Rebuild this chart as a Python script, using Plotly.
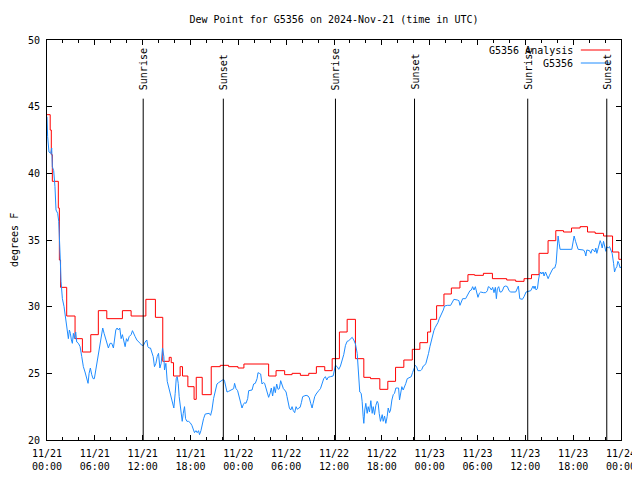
import plotly.graph_objects as go
import pandas as pd

START = "2024-11-21 00:00"
TITLE = "Dew Point for G5356 on 2024-Nov-21 (time in UTC)"
Y_TITLE = "degrees F"

# Analysis series (step values), hours since START
analysis_hours = [0, 0.4, 0.54, 0.67, 1.42, 1.55, 1.7, 2.47, 3.52, 4.44, 5.49, 6.44, 7.5, 9.46, 10.55,
                  12.4, 13.6, 14.52, 15.33, 15.58, 15.87, 16.7, 17.0, 17.67, 18.45, 18.72, 19.47, 20.6,
                  21.73, 22.78, 23.96, 24.7, 27.8, 28.73, 29.81, 30.74, 31.78, 32.83, 33.79, 34.84,
                  35.77, 36.68, 37.65, 38.69, 39.74, 40.58, 41.75, 42.75, 43.72, 44.76, 45.82, 46.77,
                  47.74, 48.12, 48.87, 49.79, 50.72, 51.8, 52.8, 53.64, 54.74, 55.87, 57.66, 58.79,
                  59.84, 60.77, 61.72, 62.85, 63.82, 64.79, 65.79, 66.87, 67.8, 68.76, 69.81, 70.94,
                  71.73, 72]
analysis_values = [44.4, 43.25, 41.4, 39.4, 37.4, 33.5, 31.45, 29.3, 27.6, 26.6, 27.9, 29.7, 29.1, 29.7,
                   29.3, 30.55, 29.2, 25.9, 26.2, 25.8, 24.8, 25.5, 24.8, 24.0, 23.05, 24.7, 23.4, 25.5,
                   25.6, 25.5, 25.4, 25.7, 24.8, 25.2, 24.9, 25.0, 24.85, 25.0, 25.5, 25.2, 26.1, 28.1,
                   29.05, 26.1, 24.7, 24.6, 23.8, 24.4, 25.45, 26.0, 26.8, 27.3, 28.1, 29.05, 30.07,
                   30.95, 31.4, 31.9, 32.4, 32.35, 32.5, 32.1, 32.0, 31.9, 32.1, 32.4, 34.0, 34.95, 35.7,
                   35.6, 35.9, 36.0, 35.6, 35.5, 35.3, 34.1, 33.55, 33.55]

# Observed station series, hours since START
obs_hours = [0, 0.08, 0.25, 0.46, 0.59, 0.67, 0.84, 1.0, 1.13, 1.34, 1.47, 1.55, 1.67, 1.76, 1.93, 2.14,
             2.26, 2.39, 2.51, 2.68, 2.81, 2.93, 3.06, 3.18, 3.31, 3.43, 3.6, 3.73, 3.94, 4.15, 4.36,
             4.56, 4.77, 4.98, 5.15, 5.28, 5.44, 5.61, 5.78, 5.94, 6.11, 6.32, 6.53, 6.7, 6.87, 6.99,
             7.16, 7.37, 7.58, 7.7, 7.91, 8.12, 8.33, 8.46, 8.63, 8.79, 8.96, 9.13, 9.3, 9.46, 9.63,
             9.8, 9.97, 10.13, 10.3, 10.55, 10.72, 10.89, 11.06, 11.27, 11.48, 11.68, 11.9, 12.1,
             12.31, 12.52, 12.65, 12.81, 12.98, 13.15, 13.32, 13.48, 13.66, 13.82, 13.99, 14.16,
             14.32, 14.49, 14.66, 14.74, 14.91, 15.08, 15.24, 15.41, 15.58, 15.75, 15.91, 16.08,
             16.21, 16.33, 16.46, 16.58, 16.71, 16.83, 16.96, 17.09, 17.25, 17.38, 17.55, 17.75,
             17.96, 18.17, 18.38, 18.5, 18.68, 18.84, 19.01, 19.13, 19.31, 19.43, 19.64, 19.85, 20.1,
             20.35, 20.52, 20.69, 20.89, 21.1, 21.32, 21.52, 21.73, 21.95, 22.15, 22.28, 22.45,
             22.58, 22.78, 22.99, 23.2, 23.41, 23.53, 23.71, 23.91, 24.12, 24.29, 24.46, 24.62,
             24.79, 24.96, 25.17, 25.3, 25.5, 25.72, 25.92, 26.13, 26.35, 26.47, 26.63, 26.8, 26.97,
             27.14, 27.3, 27.48, 27.64, 27.8, 27.98, 28.14, 28.3, 28.48, 28.64, 28.81, 28.98, 29.15,
             29.31, 29.48, 29.65, 29.81, 29.99, 30.11, 30.24, 30.4, 30.57, 30.74, 30.9, 31.07, 31.24,
             31.41, 31.57, 31.75, 31.91, 32.07, 32.25, 32.5, 32.75, 32.91, 33.08, 33.25, 33.38,
             33.58, 33.76, 33.92, 34.08, 34.3, 34.51, 34.71, 34.92, 35.09, 35.26, 35.43, 35.55,
             35.89, 36.18, 36.39, 36.6, 36.81, 37.02, 37.22, 37.44, 37.65, 37.85, 38.07, 38.28,
             38.48, 38.69, 38.91, 39.11, 39.23, 39.41, 39.53, 39.66, 39.74, 39.86, 39.99, 40.16,
             40.29, 40.45, 40.62, 40.79, 40.92, 41.08, 41.25, 41.42, 41.54, 41.67, 41.83, 42.05,
             42.17, 42.34, 42.5, 42.67, 42.8, 42.96, 43.09, 43.26, 43.43, 43.59, 43.76, 43.93, 44.1,
             44.22, 44.35, 44.51, 44.68, 44.85, 45.01, 45.19, 45.35, 45.52, 45.69, 45.85, 46.02,
             46.19, 46.36, 46.52, 46.86, 47.02, 47.2, 47.36, 47.53, 47.7, 47.86, 48.03, 48.2, 48.37,
             48.53, 48.7, 48.87, 49.03, 49.21, 49.37, 49.54, 49.71, 49.87, 50.21, 50.63, 50.84,
             51.04, 51.47, 51.67, 51.8, 51.97, 52.14, 52.51, 52.73, 52.89, 53.05, 53.23, 53.39,
             53.56, 53.73, 53.89, 54.06, 54.23, 54.4, 54.73, 55.03, 55.24, 55.36, 55.53, 55.74, 55.9,
             56.07, 56.24, 56.37, 56.49, 56.66, 56.82, 57.0, 57.16, 57.32, 57.54, 57.75, 57.95,
             58.17, 58.79, 59.0, 59.13, 59.3, 59.63, 59.84, 59.97, 60.09, 60.68, 60.84, 60.97, 61.1,
             61.22, 61.35, 61.52, 61.65, 61.77, 61.93, 62.06, 62.23, 62.35, 62.53, 62.69, 62.86,
             63.03, 63.19, 63.36, 63.53, 63.69, 63.86, 63.94, 64.03, 64.11, 64.24, 64.36, 65.83,
             66.0, 66.12, 66.3, 66.46, 66.62, 67.3, 67.46, 67.59, 67.71, 68.05, 68.22, 68.38, 68.56,
             68.72, 68.84, 68.97, 69.1, 69.22, 69.39, 69.51, 69.64, 69.81, 69.94, 70.1, 70.23,
             70.39, 70.56, 70.73, 70.89, 71.07, 71.19, 71.32, 71.48, 71.61, 71.73, 71.9, 72.0]
obs_values = [44.25, 42.75, 41.6, 41.5, 41.9, 40.5, 40.2, 39.0, 37.25, 37.0, 36.4, 35.5, 33.5, 31.9, 30.6,
              30.0, 29.4, 28.75, 28.25, 27.6, 28.25, 28.0, 27.5, 27.25, 28.0, 27.6, 28.1, 27.35, 27.25,
              27.0, 26.25, 25.5, 25.1, 24.5, 24.25, 25.0, 25.4, 24.9, 24.6, 24.6, 25.25, 26.1, 26.9,
              27.5, 28.0, 28.4, 28.0, 27.6, 27.1, 26.9, 27.25, 27.25, 26.9, 27.4, 28.25, 28.4, 28.25,
              28.4, 27.6, 27.9, 27.3, 27.0, 27.6, 27.4, 27.75, 27.9, 28.2, 27.9, 27.75, 27.5, 27.4,
              27.25, 27.1, 27.1, 27.35, 27.5, 27.0, 26.9, 26.9, 26.5, 26.25, 25.5, 25.75, 26.25, 26.5,
              25.4, 25.75, 26.9, 26.25, 25.25, 25.75, 24.4, 24.0, 23.5, 23.1, 22.75, 22.4, 23.5, 24.6,
              24.75, 24.25, 23.25, 22.5, 21.9, 21.4, 22.0, 22.5, 21.6, 21.4, 21.4, 21.3, 21.1, 20.75,
              20.55, 20.7, 20.55, 20.7, 20.4, 20.7, 21.1, 21.6, 21.95, 21.95, 22.0, 21.85, 22.25,
              23.1, 23.6, 24.2, 24.3, 24.4, 24.5, 24.55, 24.4, 24.0, 23.6, 23.65, 23.7, 23.8, 23.85,
              24.25, 23.85, 23.7, 23.25, 22.9, 22.4, 22.65, 22.8, 22.75, 23.1, 23.7, 23.75, 23.75,
              24.2, 24.25, 24.6, 25.05, 25.0, 24.95, 24.2, 24.3, 24.25, 23.9, 23.6, 23.2, 23.5, 23.9,
              23.3, 24.0, 23.55, 24.2, 23.8, 23.85, 24.45, 24.05, 23.85, 23.75, 23.6, 23.25, 22.75,
              22.4, 22.25, 22.5, 22.2, 22.05, 22.5, 22.3, 22.4, 22.45, 22.8, 23.25, 23.3, 23.35, 23.3,
              23.15, 22.75, 22.4, 22.75, 23.25, 23.45, 23.6, 23.7, 23.85, 24.25, 24.6, 24.75, 24.5,
              24.7, 24.75, 24.75, 24.8, 25.6, 25.5, 25.3, 25.55, 26.0, 26.4, 27.1, 27.4, 27.45, 27.55,
              27.7, 27.5, 27.2, 26.5, 25.1, 23.6, 23.5, 22.9, 21.75, 21.25, 22.25, 22.75, 22.0, 22.5,
              22.1, 22.95, 22.0, 22.5, 21.9, 22.6, 22.9, 22.75, 22.0, 21.4, 21.9, 21.4, 21.8, 21.25,
              21.75, 22.4, 22.05, 22.25, 23.0, 23.4, 23.5, 23.9, 23.9, 23.9, 23.0, 23.6, 24.0, 23.75,
              24.1, 24.25, 24.6, 24.65, 24.7, 24.75, 25.05, 25.3, 25.6, 25.5, 25.2, 25.2, 25.3, 25.55,
              25.6, 25.75, 26.1, 26.5, 27.0, 27.5, 27.9, 28.2, 28.45, 28.6, 28.8, 29.1, 29.3, 29.5,
              29.75, 30.05, 30.1, 30.1, 30.4, 30.55, 30.5, 30.45, 30.1, 30.4, 30.6, 30.6, 30.9, 31.0,
              31.2, 31.25, 31.5, 31.25, 31.5, 31.1, 30.7, 31.0, 31.1, 31.05, 31.05, 31.2, 31.5, 31.45,
              31.25, 31.45, 31.05, 31.45, 30.6, 31.35, 31.5, 31.1, 31.1, 31.25, 31.5, 31.55, 31.5,
              31.2, 31.1, 31.1, 31.45, 31.55, 30.6, 30.55, 30.75, 31.0, 31.1, 31.2, 31.35, 31.55,
              31.35, 31.55, 31.25, 31.35, 32.0, 32.4, 32.6, 32.45, 32.6, 32.3, 32.6, 32.35, 32.1,
              32.35, 32.6, 32.75, 32.9, 32.9, 33.25, 34.25, 34.9, 35.3, 34.75, 34.3, 34.3, 34.9, 35.3,
              34.9, 34.5, 34.3, 34.25, 34.1, 33.8, 34.25, 34.2, 34.0, 34.3, 34.25, 34.1, 34.4, 34.0,
              34.25, 34.5, 34.95, 34.75, 34.4, 34.9, 34.4, 34.15, 34.5, 34.4, 34.5, 34.25, 34.0,
              33.25, 32.6, 32.85, 33.0, 33.4, 33.25, 32.9, 33.0]

sun_events = ["Sunrise", "Sunset", "Sunrise", "Sunset", "Sunrise", "Sunset"]
sun_times = ["2024-11-21 12:04", "2024-11-21 22:07", "2024-11-22 12:11",
             "2024-11-22 22:06", "2024-11-23 12:18", "2024-11-23 22:13"]

legend_names = ["G5356 Analysis", "G5356"]
colors = ["#ff0000", "#1e8cff"]

base = pd.Timestamp(START)
t_an = base + pd.to_timedelta(analysis_hours, unit="h")
t_ob = base + pd.to_timedelta(obs_hours, unit="h")

FONT = "DejaVu Sans Mono"

fig = go.Figure()
fig.add_trace(go.Scatter(x=t_an, y=analysis_values, mode="lines", line=dict(color=colors[0], width=1, shape="hv"),
                         name=legend_names[0], showlegend=False))
fig.add_trace(go.Scatter(x=t_ob, y=obs_values, mode="lines", line=dict(color=colors[1], width=1),
                         name=legend_names[1], showlegend=False))

for ev, t in zip(sun_events, sun_times):
    fig.add_shape(type="line", x0=t, x1=t, y0=20, y1=45.6, xref="x", yref="y",
                  line=dict(color="black", width=1))
    fig.add_annotation(x=t, y=46.1, xref="x", yref="y", text=ev, textangle=-90, showarrow=False,
                       xanchor="center", yanchor="bottom", font=dict(family=FONT, size=10, color="black"))

# manual legend (text right-aligned, sample to the right)
for i, (nm, c) in enumerate(zip(legend_names, colors)):
    yy = 0.975 - i * 0.0325
    fig.add_annotation(x=0.919, y=yy, xref="paper", yref="paper", text=nm, showarrow=False,
                       xanchor="right", yanchor="middle", font=dict(family=FONT, size=10, color="black"))
    fig.add_shape(type="line", x0=0.930, x1=0.981, y0=yy, y1=yy, xref="paper", yref="paper",
                  line=dict(color=c, width=1))

fig.add_annotation(x=0, y=0.5, xref="paper", yref="paper", xshift=-33, text=Y_TITLE, textangle=-90,
                   showarrow=False, xanchor="center", yanchor="middle",
                   font=dict(family=FONT, size=10, color="black"))

fig.update_layout(
    width=640, height=480,
    margin=dict(l=39, r=27, t=32, b=48),
    paper_bgcolor="white", plot_bgcolor="white",
    title=dict(text=TITLE, x=0.5, xref="paper", xanchor="center", y=0.977, yanchor="middle",
               font=dict(family=FONT, size=10, color="black")),
    font=dict(family=FONT, size=10, color="black"),
    showlegend=False,
)
fig.update_xaxes(
    range=[base, base + pd.Timedelta(hours=72)],
    tick0=base, dtick=6 * 3600 * 1000, tickformat="%m/%d<br>%H:%M",
    ticks="inside", ticklen=5, tickcolor="black", tickwidth=1,
    minor=dict(dtick=2 * 3600 * 1000, ticks="inside", ticklen=3, tickcolor="black", tickwidth=1, showgrid=False),
    showline=True, linecolor="black", linewidth=1, mirror="ticks",
    showgrid=False, zeroline=False, tickfont=dict(family=FONT, size=10), ticklabelstandoff=4,
    automargin=False,
)
fig.update_yaxes(
    range=[20, 50], tick0=20, dtick=5,
    ticks="inside", ticklen=5, tickcolor="black", tickwidth=1,
    showline=True, linecolor="black", linewidth=1, mirror="ticks",
    showgrid=False, zeroline=False, tickfont=dict(family=FONT, size=10), ticklabelstandoff=4,
    automargin=False,
)

fig.write_html("out.html")
